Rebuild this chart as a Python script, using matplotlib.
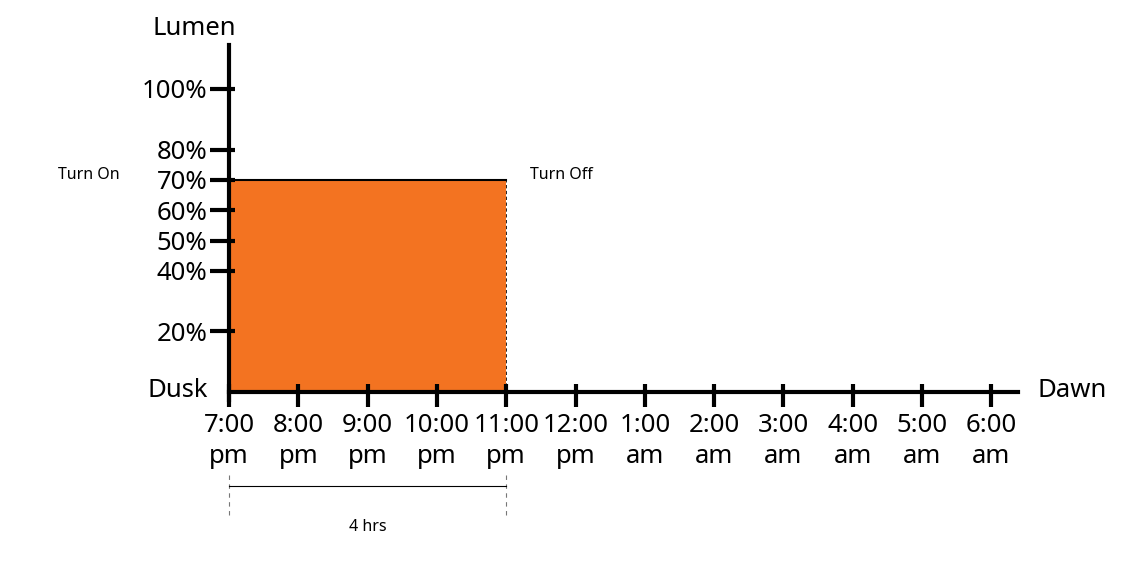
import numpy as np
import matplotlib.pyplot as plt

plt.rcParams['font.family'] = ['Noto Sans', 'DejaVu Sans']

# data
time_labels = ["7:00\npm", "8:00\npm", "9:00\npm", "10:00\npm", "11:00\npm", "12:00\npm",
               "1:00\nam", "2:00\nam", "3:00\nam", "4:00\nam", "5:00\nam", "6:00\nam"]
lumen_ticks = [20, 40, 50, 60, 70, 80, 100]
on_hour = 0
off_hour = 4
lumen_level = 70
duration_label = "4 hrs"

orange = '#F37321'
big = 18.5
small = 11.5

W, H = 1136, 563
fig = plt.figure(figsize=(W / 100, H / 100), dpi=100)
# axes box in pixels: x 229..1018, y 45..400
ax = fig.add_axes([229 / W, (H - 400) / H, (1018 - 229) / W, (400 - 45) / H])

px_per_hr = 69.3
px_per_pct = 3.03
ax.set_xlim(0, (1018 - 229) / px_per_hr)
ax.set_ylim(-8 / px_per_pct, (392 - 45) / px_per_pct)

# lit period
ax.fill_between([on_hour, off_hour], 0, lumen_level, color=orange, lw=0, zorder=1)
ax.plot([on_hour, off_hour], [lumen_level, lumen_level], color='black', lw=1.5, zorder=2)
ax.plot([off_hour, off_hour], [0, lumen_level], color='black', lw=0.6, ls=(0, (4, 3)), zorder=2)

for s in ['top', 'right']:
    ax.spines[s].set_visible(False)
ax.spines['left'].set_linewidth(3)
ax.spines['bottom'].set_linewidth(3)
ax.spines['bottom'].set_position(('data', 0))
ax.spines['left'].set_zorder(3)
ax.spines['bottom'].set_zorder(3)

# ticks poke out more than in: major = outward part, minor = inward part
ax.xaxis.remove_overlapping_locs = False
ax.yaxis.remove_overlapping_locs = False

ax.set_xticks(np.arange(len(time_labels)))
ax.set_xticks(np.arange(len(time_labels)), minor=True)
ax.set_xticklabels(time_labels, fontsize=big, linespacing=1.35)
ax.tick_params(axis='x', which='major', direction='out', length=11, width=3, pad=4)
ax.tick_params(axis='x', which='minor', direction='in', length=6, width=3)

ax.set_yticks(lumen_ticks)
ax.set_yticks(lumen_ticks, minor=True)
ax.set_yticklabels([f"{v}%" for v in lumen_ticks], fontsize=big)
ax.tick_params(axis='y', which='major', direction='out', length=14, width=3, pad=1.5)
ax.tick_params(axis='y', which='minor', direction='in', length=4, width=3)
ax.set_facecolor('none')

# annotations
ax.text(-0.5, 116, "Lumen", fontsize=big, ha='center', va='bottom', clip_on=False)
ax.text(-0.74, 0.5, "Dusk", fontsize=big, ha='center', va='center', clip_on=False)
ax.text(12.16, 0.5, "Dawn", fontsize=big, ha='center', va='center', clip_on=False)
ax.text(-2.03, lumen_level + 1.5, "Turn On", fontsize=small, ha='center', va='center', clip_on=False)
ax.text(off_hour + 0.8, lumen_level + 1.5, "Turn Off", fontsize=small, ha='center', va='center', clip_on=False)

# duration bracket below the axis
for h in [on_hour, off_hour]:
    ax.plot([h, h], [-27.5, -41.5], color='#777777', lw=0.8, ls=(0, (4, 4)), clip_on=False)
ax.plot([on_hour, off_hour], [-31, -31], color='black', lw=0.8, clip_on=False)
ax.text((on_hour + off_hour) / 2, -44.5, duration_label, fontsize=small, ha='center', va='center', clip_on=False)

fig.savefig('out.png', dpi=100)
